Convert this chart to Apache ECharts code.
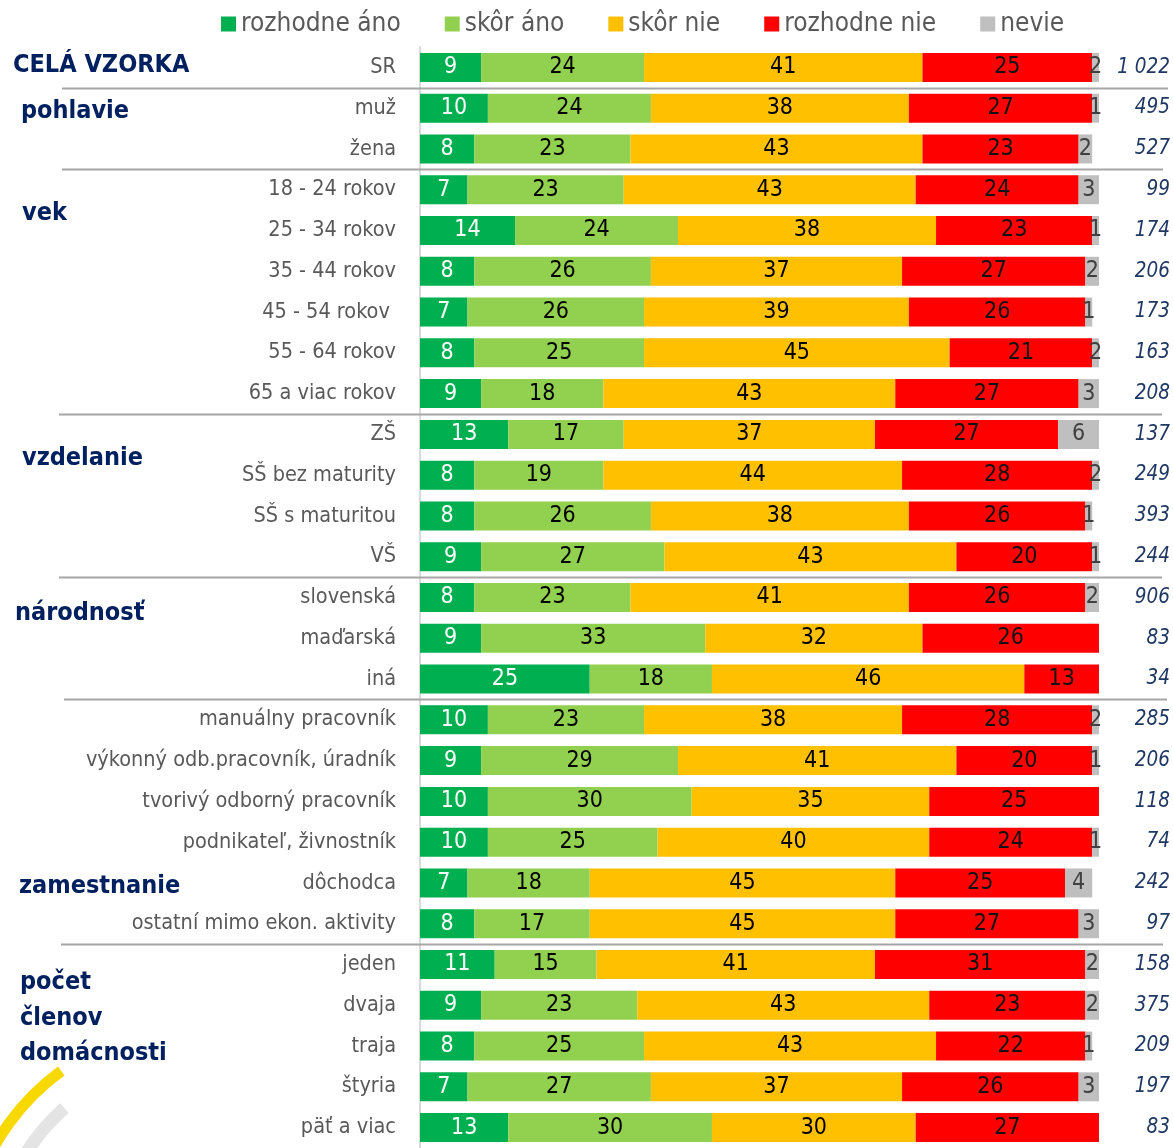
<!DOCTYPE html>
<html>
<head>
<meta charset="utf-8">
<script src="https://cdn.jsdelivr.net/npm/echarts@6.0.0/dist/echarts.min.js"></script>
<style>
  body { margin: 0; background: #fff; }
  #chart { width: 1173px; height: 1148px; }
</style>
</head>
<body>
<div id="chart"></div>
<script>
const FONT = "'Liberation Sans Narrow', 'Arial Narrow', 'DejaVu Sans Condensed', sans-serif"

const categories = ['SR', 'muž', 'žena', '18 - 24 rokov', '25 - 34 rokov', '35 - 44 rokov', '45 - 54 rokov ',
  '55 - 64 rokov', '65 a viac rokov', 'ZŠ', 'SŠ bez maturity', 'SŠ s maturitou', 'VŠ', 'slovenská', 'maďarská',
  'iná', 'manuálny pracovník', 'výkonný odb.pracovník, úradník', 'tvorivý odborný pracovník',
  'podnikateľ, živnostník', 'dôchodca', 'ostatní mimo ekon. aktivity', 'jeden', 'dvaja', 'traja', 'štyria', 'päť a viac']

const rozhodneAno = [9, 10, 8, 7, 14, 8, 7, 8, 9, 13, 8, 8, 9, 8, 9, 25, 10, 9, 10, 10, 7, 8, 11, 9, 8, 7, 13]
const skorAno = [24, 24, 23, 23, 24, 26, 26, 25, 18, 17, 19, 26, 27, 23, 33, 18, 23, 29, 30, 25, 18, 17, 15, 23, 25, 27, 30]
const skorNie = [41, 38, 43, 43, 38, 37, 39, 45, 43, 37, 44, 38, 43, 41, 32, 46, 38, 41, 35, 40, 45, 45, 41, 43, 43, 37, 30]
const rozhodneNie = [25, 27, 23, 24, 23, 27, 26, 21, 27, 27, 28, 26, 20, 26, 26, 13, 28, 20, 25, 24, 25, 27, 31, 23, 22, 26, 27]
const nevie = [2, 1, 2, 3, 1, 2, 1, 2, 3, 6, 2, 1, 1, 2, 0, 0, 2, 1, 0, 1, 4, 3, 2, 2, 1, 3, 0]
const counts = ['1 022', '495', '527', '99', '174', '206', '173', '163', '208', '137', '249', '393', '244', '906',
  '83', '34', '285', '206', '118', '74', '242', '97', '158', '375', '209', '197', '83']

// skupiny: nazov, riadok (aj medzi riadkami), x
const groupNames = ['CELÁ VZORKA', 'pohlavie', 'vek', 'vzdelanie', 'národnosť', 'zamestnanie', 'počet\nčlenov\ndomácnosti']
const groupRows = [-0.15, 1, 3.5, 9.5, 13.3, 20, 22.35]
const groupX = [13, 21, 22, 22, 15, 19, 20]
// deliace ciary za riadkom
const dividerAfter = [0, 2, 8, 12, 15, 21]

const colors = ['#00B050', '#92D050', '#FFC000', '#FF0000', '#BFBFBF']
const labelColors = ['#ffffff', '#000000', '#000000', '#111111', '#404040']
const names = ['rozhodne áno', 'skôr áno', 'skôr nie', 'rozhodne nie', 'nevie']
const values = [rozhodneAno, skorAno, skorNie, rozhodneNie, nevie]

const myChart = echarts.init(document.getElementById('chart'))

const option = {
  animation: false,
  color: colors,
  legend: {
    data: names,
    top: 6,
    left: 216,
    icon: 'rect',
    itemWidth: 15,
    itemHeight: 15,
    itemGap: 44,
    textStyle: { color: '#595959', fontSize: 26, fontFamily: FONT }
  },
  grid: { left: 420, top: 47, width: 679, height: 1107, containLabel: false },
  xAxis: { type: 'value', min: 0, max: 100, show: false },
  yAxis: [
    {
      type: 'category',
      data: categories,
      inverse: true,
      axisLine: { show: true, lineStyle: { color: '#d9d9d9', width: 2 } },
      axisTick: { show: false },
      axisLabel: { color: '#595959', fontSize: 21.5, fontFamily: FONT, margin: 24 }
    },
    {
      type: 'category',
      data: counts,
      inverse: true,
      position: 'right',
      axisLine: { show: false },
      axisTick: { show: false },
      axisLabel: {
        color: '#1F3864', fontSize: 20.5, fontStyle: 'italic', fontFamily: FONT,
        align: 'right', margin: 71, padding: [0, 0, 7, 0]
      }
    }
  ],
  series: names.map((n, i) => ({
    name: n,
    type: 'bar',
    stack: 'total',
    barWidth: 29,
    data: values[i],
    label: {
      show: true,
      position: 'inside',
      color: labelColors[i],
      fontSize: 23,
      fontFamily: FONT,
      formatter: (p) => (p.value ? String(p.value) : '')
    }
  }))
}
myChart.setOption(option)

// dekoracie: skupiny, deliace ciary, logo
const y0 = myChart.convertToPixel({ yAxisIndex: 0 }, 0)
const y1 = myChart.convertToPixel({ yAxisIndex: 0 }, 1)
const step = y1 - y0
const lineStart = [62, 62, 59, 59, 64, 61]
const lineEnd = [1168, 1163, 1162, 1162, 1167, 1163]

const graphics = []
groupNames.forEach((g, i) => {
  graphics.push({
    type: 'text',
    left: groupX[i],
    top: y0 + step * groupRows[i] - 14,
    style: {
      text: g,
      fill: '#002060',
      font: 'bold 25px ' + FONT,
      lineHeight: 35.5
    }
  })
})
dividerAfter.forEach((r, i) => {
  const y = Math.round(y0 + step * (r + 0.5)) + 0.5
  graphics.push({
    type: 'line',
    shape: { x1: lineStart[i], y1: y, x2: lineEnd[i], y2: y },
    style: { stroke: '#a6a6a6', lineWidth: 2 },
    z: 10
  })
})
// logo v pozadi
graphics.push(
  { type: 'arc', shape: { cx: 200, cy: 1262, r: 236, startAngle: Math.PI * 1.1, endAngle: Math.PI * 1.3 },
    style: { stroke: '#F7D900', lineWidth: 11, fill: null }, z: -1 },
  { type: 'arc', shape: { cx: 200, cy: 1262, r: 205, startAngle: Math.PI * 1.1, endAngle: Math.PI * 1.27 },
    style: { stroke: '#e4e4e4', lineWidth: 13, fill: null }, z: -1 },
  { type: 'arc', shape: { cx: 200, cy: 1262, r: 168, startAngle: Math.PI * 1.1, endAngle: Math.PI * 1.22 },
    style: { stroke: '#c4c4c4', lineWidth: 13, fill: null }, z: -1 }
)
myChart.setOption({ graphic: graphics })

window.addEventListener('resize', () => {
  myChart.resize()
})
</script>
</body>
</html>
